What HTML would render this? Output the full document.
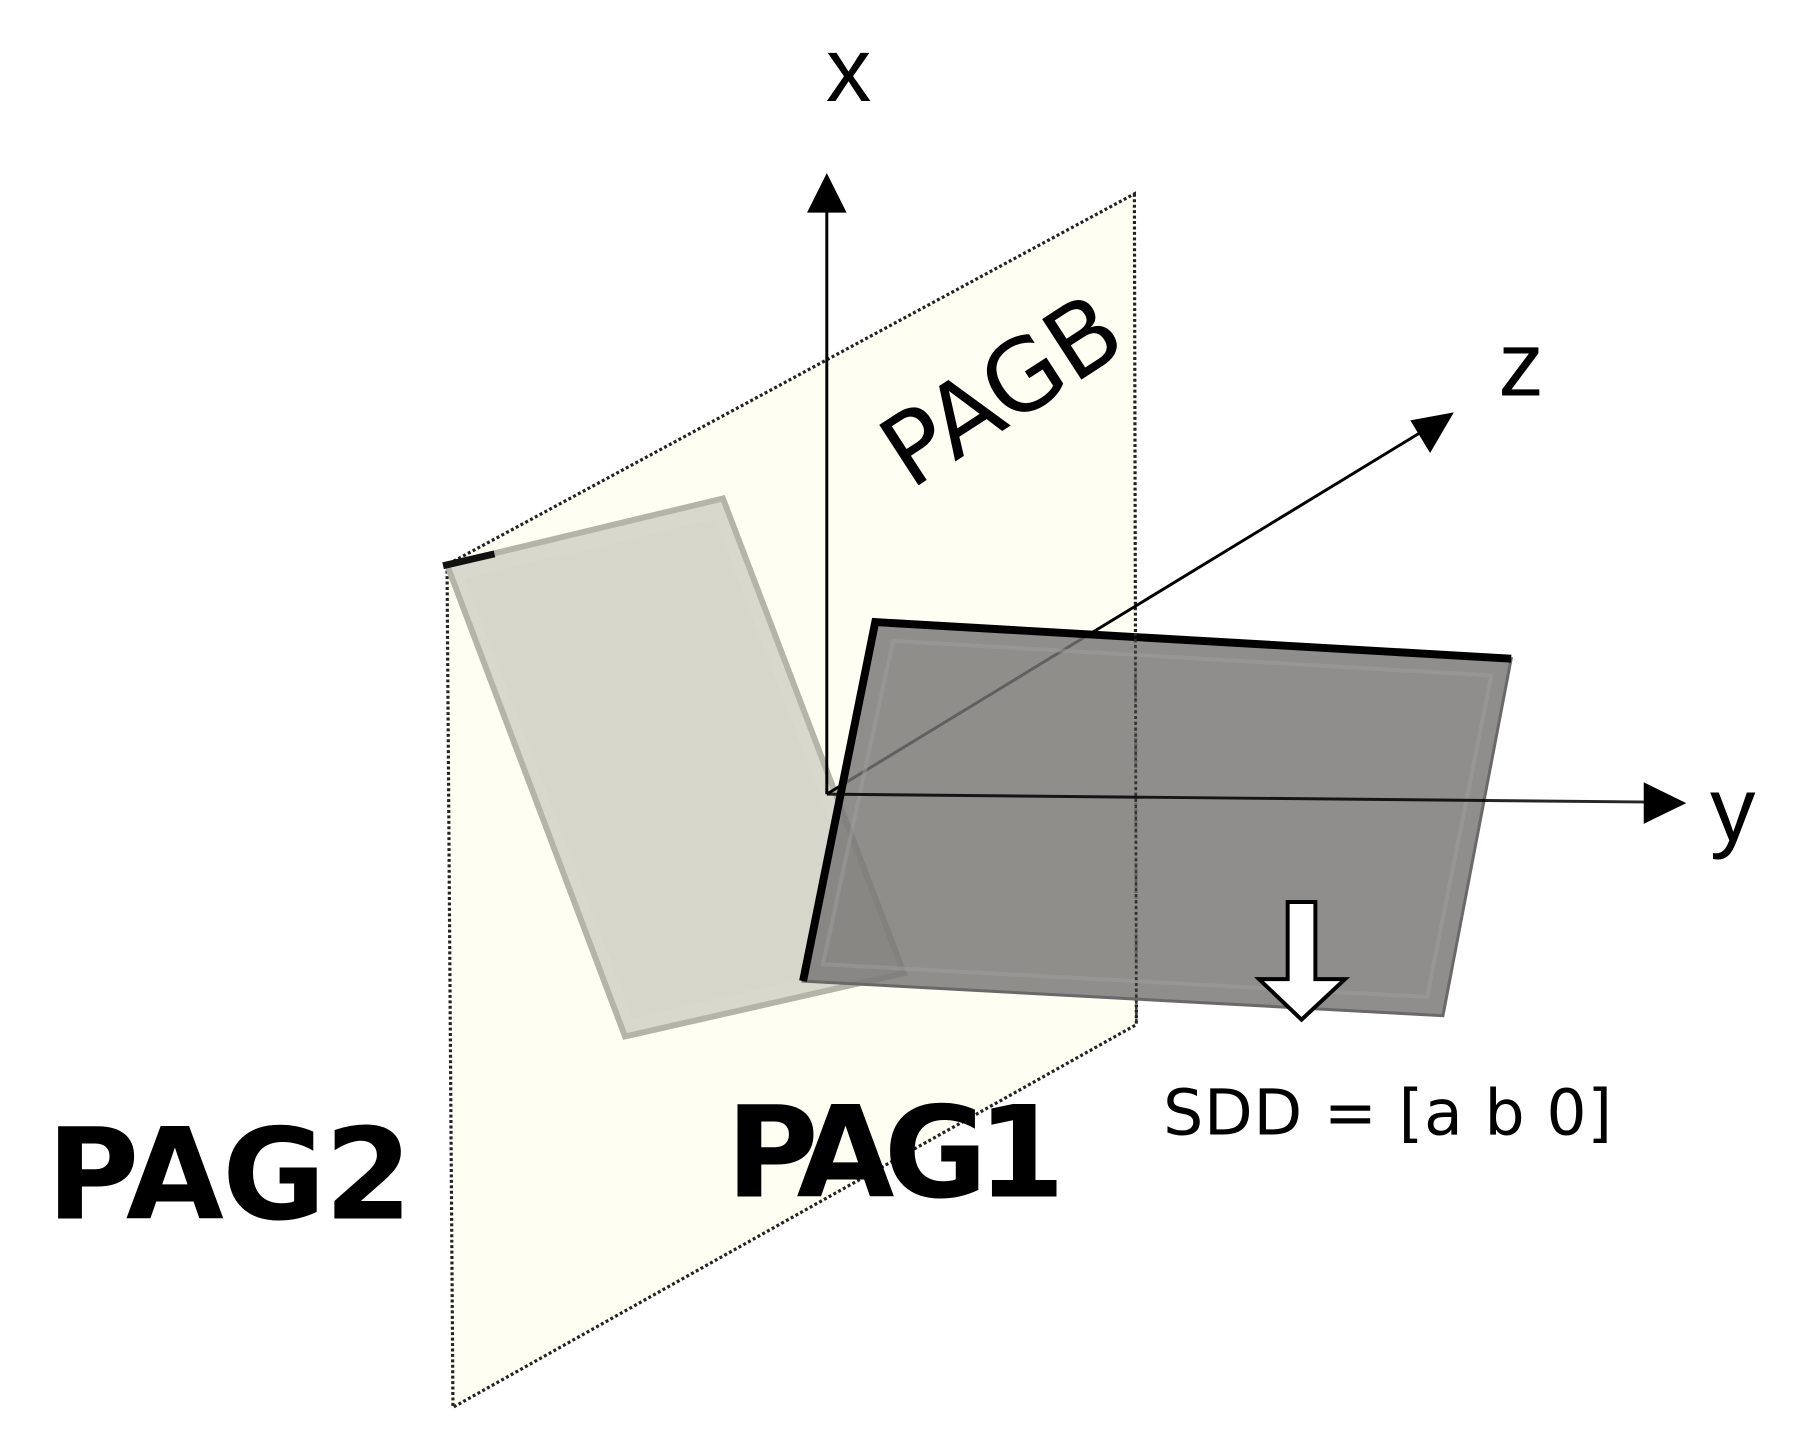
<!DOCTYPE html>
<html><head><meta charset="utf-8"><style>html,body{margin:0;padding:0;background:#fff}svg{display:block}</style></head>
<body>
<svg width="1806" height="1451" viewBox="0 0 1806 1451" xmlns="http://www.w3.org/2000/svg">
<g transform="scale(0.989)">
<polygon points="1147,196 1149,1036 458,1423 452,571" fill="#fefef2" stroke="#222" stroke-width="3.2" stroke-dasharray="3,2.5"/>
<polygon points="452,571 731,504 914,984 632,1048" fill="#d8d8cc" stroke="#b4b4a8" stroke-width="6"/>
<polygon points="470,585 723,525 892,970 640,1030" fill="#d6d6ca"/>
<line x1="448" y1="572" x2="500" y2="560" stroke="#111" stroke-width="7"/>
<line x1="836" y1="803" x2="836" y2="210" stroke="#000" stroke-width="3"/>
<polygon points="836,175 816,215 856,215" fill="#000"/>
<line x1="836" y1="803" x2="1445" y2="432" stroke="#000" stroke-width="3"/>
<polygon points="1470,417 1426,425 1446,458" fill="#000"/>
<polygon points="885,629 1528,666 1459,1027 812,992" fill="rgba(120,117,116,0.82)" stroke="#6a6868" stroke-width="3"/>
<polygon points="903,648 1508,683 1443,1008 832,975" fill="none" stroke="rgba(160,158,158,0.5)" stroke-width="4"/>
<polyline points="812,992 885,629 1528,666" fill="none" stroke="#000" stroke-width="8"/>
<line x1="1148" y1="640" x2="1149" y2="1036" stroke="#333" stroke-width="2.5" stroke-dasharray="3,3"/>
<line x1="836" y1="803" x2="1670" y2="811" stroke="#000" stroke-width="3" stroke-opacity="0.85"/>
<polygon points="1705,812 1662,791 1662,833" fill="#000"/>
<polygon points="1302,912 1330,912 1330,990 1360,990 1316,1031 1273,990 1302,990" fill="#fff" stroke="#000" stroke-width="4"/>
<text x="858" y="102" font-family="Liberation Sans, sans-serif" font-size="92" text-anchor="middle">x</text>
<text x="1538" y="400" font-family="Liberation Sans, sans-serif" font-size="92" text-anchor="middle">z</text>
<text x="1752" y="850" font-family="Liberation Sans, sans-serif" font-size="92" text-anchor="middle">y</text>
<text x="1018" y="428" font-family="DejaVu Sans, sans-serif" font-size="100" text-anchor="middle" transform="rotate(-33 1018 403)" textLength="265">PAGB</text>
<text x="47" y="1232" font-family="DejaVu Sans, sans-serif" font-size="128" font-weight="bold" textLength="370">PAG2</text>
<text x="734" y="1210" font-family="DejaVu Sans, sans-serif" font-size="128" font-weight="bold" textLength="343">PAG1</text>
<text x="1176" y="1147" font-family="DejaVu Sans, sans-serif" font-size="64" textLength="454">SDD = [a b 0]</text>
</g>
</svg>
</body></html>
